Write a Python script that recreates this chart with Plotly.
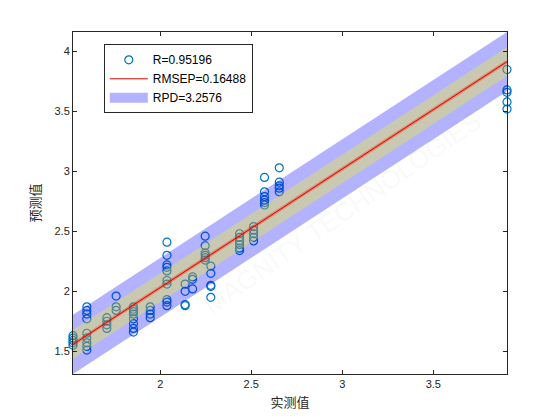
import numpy as np
import plotly.graph_objects as go

# measured (x) values per cluster and predicted (y) values
col_x = [1.521, 1.597, 1.707, 1.758, 1.853, 1.945, 2.037, 2.137, 2.178, 2.247,
         2.278, 2.436, 2.513, 2.573, 2.654, 3.905]
col_y = [
    [1.63, 1.61, 1.59, 1.57, 1.55],
    [1.87, 1.84, 1.81, 1.77, 1.65, 1.61, 1.57, 1.54, 1.51],
    [1.78, 1.75, 1.72, 1.69],
    [1.96, 1.87, 1.84],
    [1.87, 1.85, 1.83, 1.81, 1.77, 1.73, 1.69, 1.66],
    [1.87, 1.84, 1.81, 1.78],
    [2.41, 2.30, 2.22, 2.20, 2.17, 2.09, 2.06, 1.93, 1.91, 1.88],
    [2.06, 2.00, 1.89, 1.88],
    [2.12, 2.10, 2.02],
    [2.46, 2.38, 2.32, 2.30, 2.28, 2.26],
    [2.21, 2.15, 2.05, 2.04, 1.95],
    [2.48, 2.45, 2.42, 2.39, 2.36, 2.34],
    [2.54, 2.51, 2.48, 2.45, 2.42],
    [2.95, 2.83, 2.79, 2.76, 2.74, 2.72],
    [3.03, 2.91, 2.88, 2.86, 2.83],
    [3.85, 3.68, 3.66, 3.58, 3.52],
]
fit_slope = 0.9895
fit_intercept = 0.052
band_outer = 0.247   # 1.5 * RMSEP
band_inner = 0.12
legend_labels = ["R=0.95196", "RMSEP=0.16488", "RPD=3.2576"]
x_title = "实测值"
y_title = "预测值"
x_ticks = [2, 2.5, 3, 3.5]
y_ticks = [1.5, 2, 2.5, 3, 3.5, 4]

xs, ys = [], []
for cx, cy in zip(col_x, col_y):
    xs += [cx] * len(cy)
    ys += cy

xmin, xmax = min(xs), max(xs)
lx = np.array([xmin, xmax])
ly = fit_intercept + fit_slope * lx

def band(h):
    bx = [lx[0], lx[1], lx[1], lx[0], lx[0]]
    by = [ly[0] - h, ly[1] - h, ly[1] + h, ly[0] + h, ly[0] - h]
    return bx, by

axc = "rgb(38,38,38)"
fig = go.Figure()
fig.add_trace(go.Scatter(x=xs, y=ys, mode="markers", name=legend_labels[0],
                         marker=dict(symbol="circle-open", size=8, color="rgb(0,114,189)",
                                     line=dict(width=1.2, color="rgb(0,114,189)")),
                         cliponaxis=False, legendrank=1))
bx, by = band(band_outer)
fig.add_trace(go.Scatter(x=bx, y=by, mode="none", fill="toself",
                         fillcolor="rgba(0,0,255,0.3)", showlegend=False, hoverinfo="skip"))
bx, by = band(band_inner)
fig.add_trace(go.Scatter(x=bx, y=by, mode="none", fill="toself",
                         fillcolor="rgba(255,255,0,0.3)", showlegend=False, hoverinfo="skip"))
fig.add_trace(go.Scatter(x=lx, y=ly, mode="lines", showlegend=False,
                         line=dict(color="rgba(255,30,0,0.35)", width=3.5), hoverinfo="skip"))
fig.add_trace(go.Scatter(x=lx, y=ly, mode="lines", name=legend_labels[1],
                         line=dict(color="rgb(220,0,0)", width=1), legendrank=2))
# legend swatch for the band
fig.add_trace(go.Scatter(x=[None], y=[None], mode="lines", name=legend_labels[2],
                         line=dict(color="rgb(178,178,255)", width=12), legendrank=3))

y_lo = ly[0] - band_outer
y_hi = ly[1] + band_outer

axis_common = dict(showgrid=False, zeroline=False, showline=True, linecolor=axc, linewidth=1,
                   mirror="ticks", ticks="inside", ticklen=4, tickcolor=axc, tickwidth=1,
                   tickfont=dict(family="Liberation Sans, Arial", size=11, color=axc))

fig.update_layout(
    width=560, height=420,
    margin=dict(l=73, r=53, t=32, b=46),
    paper_bgcolor="white", plot_bgcolor="white",
    xaxis=dict(range=[xmin, xmax], tickvals=x_ticks, ticktext=[str(t) for t in x_ticks],
               title=dict(text=x_title, font=dict(family="Noto Sans CJK SC", size=13, color=axc),
                          standoff=8),
               **axis_common),
    yaxis=dict(range=[y_lo, y_hi], tickvals=y_ticks, ticktext=[str(t) for t in y_ticks],
               title=dict(text=y_title, font=dict(family="Noto Sans CJK SC", size=13, color=axc),
                          standoff=10),
               **axis_common),
    legend=dict(x=0.071, y=0.964, xanchor="left", yanchor="top",
                bgcolor="white", bordercolor=axc, borderwidth=1,
                font=dict(family="Liberation Sans, Arial", size=12, color="black"),
                itemwidth=38, tracegroupgap=0),
    showlegend=True,
)
fig.add_annotation(x=0.62, y=0.47, xref="paper", yref="paper", text="MAGNITY TECHNOLOGIES",
                   showarrow=False, textangle=-35,
                   font=dict(family="Liberation Sans", size=26, color="rgba(160,160,160,0.08)"))

fig.write_html("out.html")
